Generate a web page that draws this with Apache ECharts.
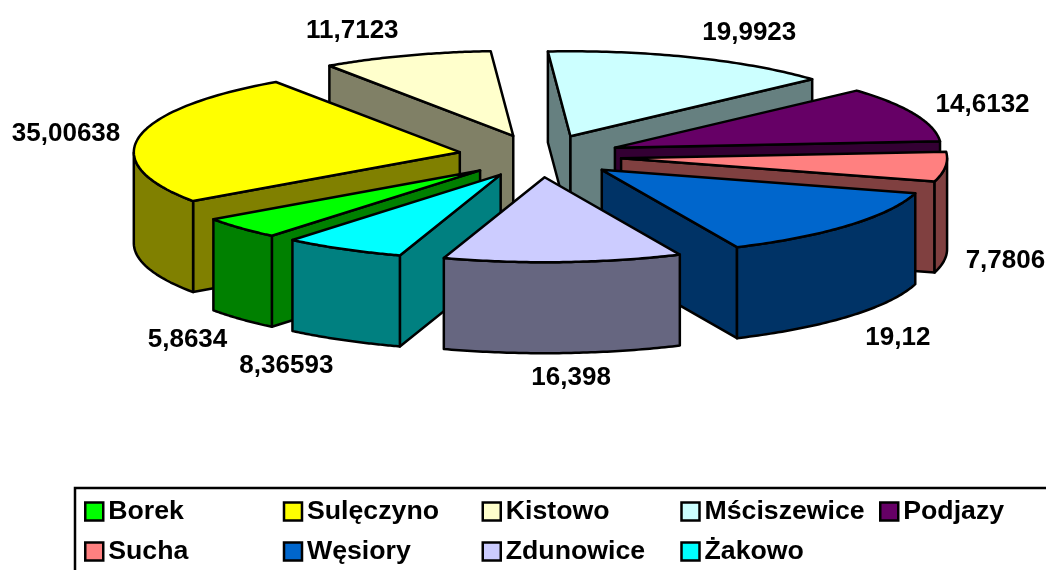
<!DOCTYPE html>
<html><head><meta charset="utf-8">
<style>html,body{margin:0;padding:0;background:#fff}#c{width:1046px;height:570px}</style>
<script src="https://cdn.jsdelivr.net/npm/echarts@6/dist/echarts.min.js"></script>
</head><body><div id="c"></div>
<script>
const categories = ['Borek','Sulęczyno','Kistowo','Mściszewice','Podjazy','Sucha','Węsiory','Zdunowice','Żakowo'];
const values = [5.8634,35.00638,11.7123,19.9923,14.6132,7.7806,19.12,16.398,8.36593];
const valueLabels = ['5,8634','35,00638','11,7123','19,9923','14,6132','7,7806','19,12','16,398','8,36593'];
const topColors = ['#00FF00','#FFFF00','#FFFFCC','#CCFFFF','#660066','#FF8080','#0066CC','#CCCCFF','#00FFFF'];
const sideColors = ['#008000','#808000','#808066','#668080','#330033','#804040','#003366','#666680','#008080'];
const labelShift = [[-53,112],[-73,-3],[-54,-25],[57,-25],[68,-9],[60,94],[49,113],[8,116],[-57,117]];

const CX=540, CY=156, RX=326, RY=85, DEPTH=91, EXPLODE=0.25, START=129.7, FONT='"Liberation Sans",Arial,sans-serif';
const total = values.reduce((a,b)=>a+b,0);
const rad = d=>d*Math.PI/180;
const spans = []; { let a=START; values.forEach(v=>{const s=v/total*360; spans.push([a,a+s]); a+=s;}); }

function renderSlice(i){
  const [a,b]=spans[i], m=(a+b)/2;
  const ax=CX+EXPLODE*RX*Math.cos(rad(m)), ay=CY+EXPLODE*RY*Math.sin(rad(m));
  const pt=(t,dz)=>[ax+RX*Math.cos(rad(t)), ay+RY*Math.sin(rad(t))+(dz||0)];
  const line={stroke:'#000',lineWidth:2.5,lineJoin:'round'};
  const kids=[];
  const wall=(t)=>({type:'polygon',shape:{points:[[ax,ay],pt(t),pt(t,DEPTH),[ax,ay+DEPTH]]},style:{fill:sideColors[i],...line}});
  if(Math.cos(rad(a))<0) kids.push(wall(a));
  if(Math.cos(rad(b))>0) kids.push(wall(b));
  const arc=[]; for(let k=0;k<=60;k++) arc.push(a+(b-a)*k/60);
  const front=arc.filter(t=>Math.sin(rad(t))>=0);
  if(front.length>1){
    kids.push({type:'polygon',shape:{points:front.map(t=>pt(t)).concat(front.slice().reverse().map(t=>pt(t,DEPTH)))},style:{fill:sideColors[i],...line}});
  }
  kids.push({type:'polygon',shape:{points:[[ax,ay]].concat(arc.map(t=>pt(t)))},style:{fill:topColors[i],...line}});
  const rm=pt(m);
  kids.push({type:'text',style:{text:valueLabels[i],x:rm[0]+labelShift[i][0],y:rm[1]+labelShift[i][1],align:'center',verticalAlign:'middle',font:'bold 26px '+FONT,fill:'#000'}});
  return {type:'group',children:kids};
}
const depthOrder = values.map((_,i)=>i).sort((p,q)=>Math.sin(rad((spans[p][0]+spans[p][1])/2))-Math.sin(rad((spans[q][0]+spans[q][1])/2)));
const option={
  animation:false,
  graphic:[{type:'rect',shape:{x:75,y:488,width:1100,height:200},style:{fill:'none',stroke:'#000',lineWidth:2.5},silent:true}],
  legend:{
    data:categories.map((n,i)=>i===4?{name:n,textStyle:{width:130}}:{name:n}),
    left:84,top:498,width:1000,padding:0,itemGap:13,itemWidth:18,itemHeight:18,icon:'rect',
    itemStyle:{borderColor:'#000',borderWidth:2.5},selectedMode:false,
    textStyle:{fontFamily:FONT,fontWeight:'bold',fontSize:26.7,color:'#000',width:161.5,lineHeight:25,padding:[0,0,0,0]}
  },
  series:categories.map((n,i)=>({
    type:'custom',name:n,coordinateSystem:'none',silent:true,z:2+depthOrder.indexOf(i),
    itemStyle:{color:topColors[i]},data:[[values[i]]],renderItem:()=>renderSlice(i)
  }))
};
echarts.init(document.getElementById('c'),null,{renderer:'canvas'}).setOption(option);
</script></body></html>
